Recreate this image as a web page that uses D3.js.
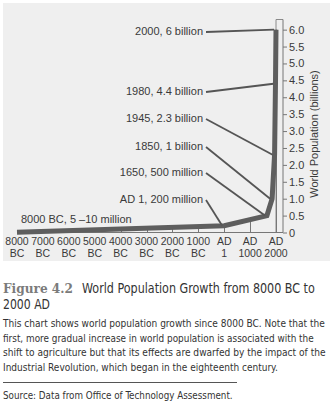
<!DOCTYPE html>
<html><head><meta charset="utf-8">
<script src="https://cdn.jsdelivr.net/npm/d3@7"></script>
<style>
html,body{margin:0;padding:0;background:#fff;}
svg{display:block;}
</style></head>
<body>
<script>
// ---- data ----
const years = [-8000, 1, 1650, 1850, 1945, 1980, 2000];
const population = [0.0075, 0.2, 0.5, 1.0, 2.3, 4.4, 6.0]; // billions
const annotationLabels = ["8000 BC, 5 \u201310 million", "AD 1, 200 million", "1650, 500 million",
  "1850, 1 billion", "1945, 2.3 billion", "1980, 4.4 billion", "2000, 6 billion"];
const xTickValues = [-8000, -7000, -6000, -5000, -4000, -3000, -2000, -1000, 1, 1000, 2000];
const xTickTop = ["8000","7000","6000","5000","4000","3000","2000","1000","AD","AD","AD"];
const xTickBottom = ["BC","BC","BC","BC","BC","BC","BC","BC","1","1000","2000"];
const yTickValues = [0,0.5,1,1.5,2,2.5,3,3.5,4,4.5,5,5.5,6];
const yTitle = "World Population (billions)";
const figNum = "Figure 4.2";
const titleLines = ["World Population Growth from 8000 BC to", "2000 AD"];
const bodyLines = [
  "This chart shows world population growth since 8000 BC. Note that the",
  "first, more gradual increase in world population is associated with the",
  "shift to agriculture but that its effects are dwarfed by the impact of the",
  "Industrial Revolution, which began in the eighteenth century."
];
const sourceText = "Source: Data from Office of Technology Assessment.";

// ---- layout ----
const W = 330, H = 406;
const svg = d3.select("body").append("svg").attr("width", W).attr("height", H);
svg.append("rect").attr("x",3).attr("y",3).attr("width",327).attr("height",258).attr("fill","#efefef");

const x = d3.scaleLinear().domain([-8000, 2000]).range([17, 276]);
const y = d3.scaleLinear().domain([0, 6.3]).range([232.5, 19.5]);
const axisX = 283;
const txt = "#3a3a3a";
const font = "'Liberation Sans', Arial, sans-serif";

const line = d3.line().x((d,i)=>x(years[i])).y(d=>y(d));
const lineAt = yr => {
  for (let i=0;i<years.length-1;i++){
    if (yr>=years[i] && yr<=years[i+1]){
      const t=(yr-years[i])/(years[i+1]-years[i]);
      return population[i]+t*(population[i+1]-population[i]);
    }
  }
  return population[population.length-1];
};

const g = svg.append("g");
g.append("line").attr("x1",x(2000)).attr("x2",x(2000)).attr("y1",y(6.3)).attr("y2",y(0)).attr("stroke","#8a8a8a").attr("stroke-width",1);
g.append("line").attr("x1",x(2000)).attr("x2",axisX).attr("y1",y(6.3)).attr("y2",y(6.3)).attr("stroke","#8a8a8a").attr("stroke-width",1);
g.append("line").attr("x1",x(-8000)).attr("x2",axisX).attr("y1",y(0)).attr("y2",y(0)).attr("stroke","#777").attr("stroke-width",1);
g.selectAll(".xt").data(xTickValues).join("line")
  .attr("x1",d=>Math.round(x(d))+0.5).attr("x2",d=>Math.round(x(d))+0.5)
  .attr("y1",y(0)).attr("y2",d=>y(lineAt(d)))
  .attr("stroke","#777").attr("stroke-width",1);

const yAxis = d3.axisRight(y).tickValues(yTickValues).tickSize(4).tickPadding(2)
  .tickFormat(d => d===0 ? "0" : d.toFixed(1));
const ya = svg.append("g").attr("transform",`translate(${axisX},0)`).call(yAxis);
ya.select(".domain").attr("stroke","#777").attr("d",`M0,${y(6.3)}V${y(0)}`);
ya.selectAll(".tick line").attr("stroke","#777");
ya.selectAll(".tick text").attr("fill",txt).attr("font-family",font).attr("font-size",11);

svg.append("text").attr("transform",`translate(318,${134}) rotate(-90)`)
  .attr("text-anchor","middle").attr("font-family",font).attr("font-size",11)
  .attr("fill",txt).text(yTitle);

const xl = svg.append("g");
xl.selectAll(".t1").data(xTickValues).join("text")
  .attr("x",d=>x(d)).attr("y",245).attr("text-anchor","middle")
  .attr("font-family",font).attr("font-size",10.5).attr("fill",txt)
  .text((d,i)=>xTickTop[i]);
xl.selectAll(".t2").data(xTickValues).join("text")
  .attr("x",d=>x(d)).attr("y",257).attr("text-anchor","middle")
  .attr("font-family",font).attr("font-size",10.5).attr("fill",txt)
  .text((d,i)=>xTickBottom[i]);

svg.append("path").datum(population).attr("d",line)
  .attr("fill","none").attr("stroke","#5e5e5e").attr("stroke-width",5)
  .attr("stroke-linejoin","miter").attr("stroke-linecap","butt");

const labelY = [219, 199, 172, 146, 118, 91, 31];
const ann = svg.append("g");
population.forEach((v,i)=>{
  if (i===0){
    ann.append("text").attr("x",21).attr("y",labelY[i]+4).attr("font-family",font)
      .attr("font-size",11).attr("fill",txt).text(annotationLabels[i]);
    return;
  }
  ann.append("text").attr("x",203).attr("y",labelY[i]+4).attr("text-anchor","end")
    .attr("font-family",font).attr("font-size",11).attr("fill",txt).text(annotationLabels[i]);
  ann.append("line").attr("x1",206).attr("y1",labelY[i]+1)
    .attr("x2",x(years[i])-2).attr("y2",y(v))
    .attr("stroke","#555").attr("stroke-width",1.8);
});

// caption: text drawn at natural size then squeezed horizontally to the reference width
const cap = svg.append("g");
function fitText(str, x0, y0, width, size, family, fill, weight){
  const t = cap.append("text").attr("font-family",family).attr("font-size",size)
    .attr("fill",fill).attr("font-weight",weight||"normal").text(str);
  const w = t.node().getComputedTextLength();
  const s = width / w;
  t.attr("transform",`translate(${x0},${y0}) scale(${s},1)`);
  return t;
}
const serif = "'DejaVu Serif Condensed','DejaVu Serif',serif";
const capFont = "'DejaVu Sans Condensed','DejaVu Sans',sans-serif";
fitText(figNum, 3, 293, 70, 13.5, serif, "#7b7b7b", "bold");
fitText(titleLines[0], 82, 293, 233, 14, capFont, "#333");
fitText(titleLines[1], 3, 309, 47, 14, capFont, "#333");
const bodyW = [322, 311, 323, 275];
bodyLines.forEach((t,i)=> fitText(t, 3, 327+i*14.5, bodyW[i], 10.5, capFont, "#333"));
cap.append("line").attr("x1",3).attr("x2",237).attr("y1",382.5).attr("y2",382.5).attr("stroke","#555").attr("stroke-width",1);
fitText(sourceText, 3, 399, 230, 10.5, capFont, "#333");
</script>
</body></html>
